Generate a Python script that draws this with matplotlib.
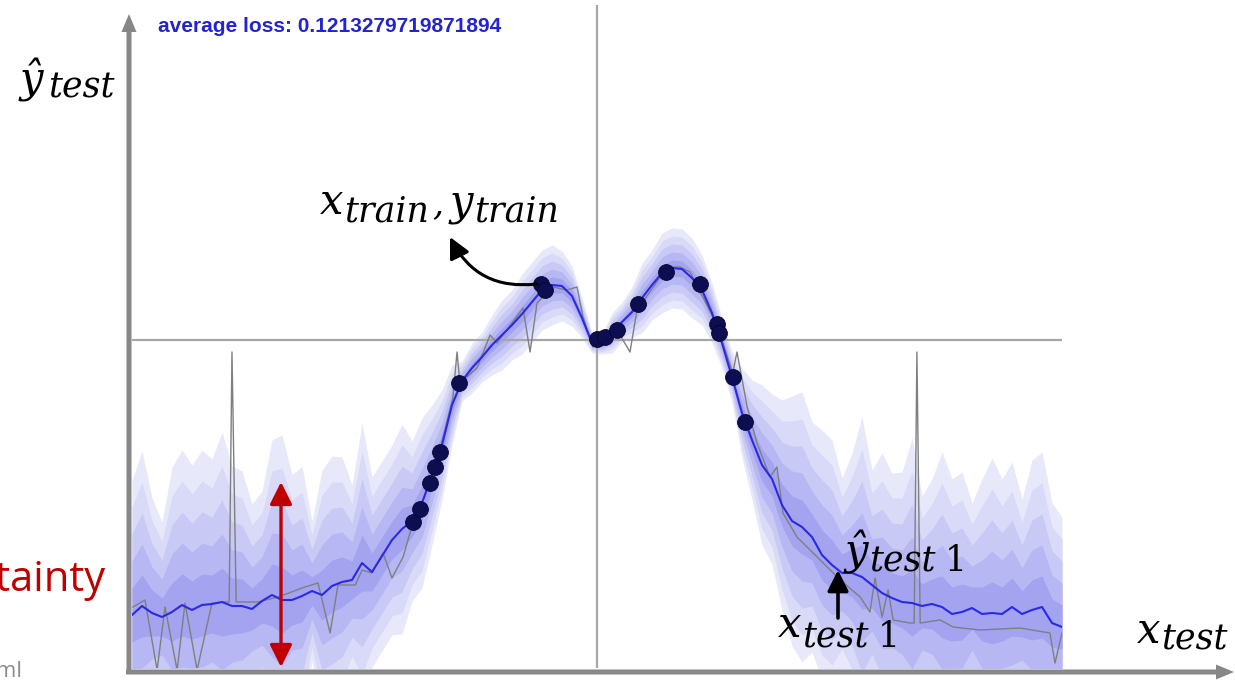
import numpy as np
import matplotlib.pyplot as plt

# test inputs on a regular grid, predictive mean and spread
x_test = np.linspace(-10, 10, 94)
y_mean = [-2.75, -2.66, -2.73, -2.77, -2.72, -2.65, -2.70, -2.65, -2.64, -2.62,
          -2.66, -2.66, -2.69, -2.61, -2.55, -2.60, -2.60, -2.56, -2.51, -2.55,
          -2.46, -2.42, -2.40, -2.23, -2.32, -2.16, -2.00, -1.89, -1.81, -1.63,
          -1.35, -1.05, -0.65, -0.41, -0.28, -0.17, -0.05, 0.05, 0.15, 0.26,
          0.38, 0.50, 0.55, 0.54, 0.44, 0.22, -0.03, -0.04, 0.07, 0.18,
          0.28, 0.42, 0.55, 0.67, 0.72, 0.71, 0.62, 0.50, 0.27, -0.03,
          -0.37, -0.73, -1.00, -1.25, -1.39, -1.65, -1.81, -1.87, -1.97, -2.15,
          -2.25, -2.33, -2.33, -2.37, -2.45, -2.53, -2.58, -2.62, -2.63, -2.66,
          -2.64, -2.67, -2.74, -2.72, -2.68, -2.74, -2.73, -2.74, -2.67, -2.74,
          -2.70, -2.67, -2.83, -2.87]
y_std = [0.27, 0.31, 0.23, 0.19, 0.29, 0.31, 0.29, 0.31, 0.29, 0.34,
         0.28, 0.27, 0.21, 0.22, 0.31, 0.33, 0.25, 0.26, 0.14, 0.25,
         0.26, 0.25, 0.19, 0.28, 0.19, 0.19, 0.19, 0.21, 0.16, 0.17,
         0.14, 0.11, 0.08, 0.04, 0.05, 0.05, 0.06, 0.07, 0.07, 0.08,
         0.08, 0.08, 0.08, 0.07, 0.06, 0.04, 0.02, 0.02, 0.04, 0.04,
         0.05, 0.07, 0.07, 0.08, 0.08, 0.08, 0.08, 0.07, 0.06, 0.05,
         0.05, 0.09, 0.12, 0.16, 0.17, 0.21, 0.25, 0.27, 0.23, 0.25,
         0.25, 0.19, 0.24, 0.32, 0.23, 0.28, 0.25, 0.26, 0.33, 0.22,
         0.25, 0.31, 0.27, 0.28, 0.21, 0.27, 0.31, 0.27, 0.29, 0.23,
         0.30, 0.31, 0.24, 0.22]

# noisy sample curve (grey)
x_true = [-9.98, -9.72, -9.46, -9.29, -9.03, -8.86, -8.60, -8.28, -8.00, -7.91,
          -7.85, -7.76, -7.29, -6.86, -6.28, -6.00, -5.74, -5.57, -5.20, -5.05,
          -4.84, -4.60, -4.41, -4.17, -3.96, -3.81, -3.59, -3.38, -3.10, -3.01,
          -2.95, -2.58, -2.30, -2.15, -1.59, -1.44, -1.29, -0.95, -0.65, -0.43,
          -0.30, -0.09, 0.00, 0.43, 0.71, 0.86, 1.51, 1.78, 2.00, 2.58,
          2.92, 3.01, 3.23, 3.44, 3.72, 3.87, 4.00, 4.30, 4.80, 5.23,
          5.66, 5.87, 5.98, 6.13, 6.26, 6.37, 6.73, 6.82, 6.88, 6.95,
          7.38, 7.66, 8.24, 9.10, 9.74, 9.85, 10.00]
y_true = [-2.67, -2.60, -3.30, -2.67, -3.30, -2.63, -3.30, -2.63, -2.62, -2.62,
          -0.12, -2.62, -2.62, -2.57, -2.47, -2.43, -2.93, -2.45, -2.45, -2.30,
          -2.33, -2.13, -2.38, -2.17, -1.83, -1.68, -1.42, -1.10, -0.58, -0.12,
          -0.43, -0.28, 0.05, -0.03, 0.32, -0.12, 0.37, 0.53, 0.50, 0.53,
          0.23, -0.07, -0.03, 0.10, -0.12, 0.30, 0.73, 0.73, 0.68, 0.15,
          -0.33, -0.12, -0.67, -1.03, -1.37, -1.27, -1.73, -1.97, -2.20, -2.40,
          -2.57, -2.72, -2.38, -2.77, -2.50, -2.80, -2.83, -2.83, -0.12, -2.83,
          -2.80, -2.87, -2.90, -2.88, -2.93, -3.23, -2.93]

# training points
x_train = [-3.96, -3.81, -3.59, -3.48, -3.38, -2.97, -1.20, -1.12, 0.00, 0.17,
           0.43, 0.88, 1.48, 2.22, 2.58, 2.62, 2.92, 3.18]
y_train = [-1.82, -1.69, -1.43, -1.27, -1.12, -0.43, 0.56, 0.50, 0.01, 0.03,
           0.10, 0.36, 0.68, 0.56, 0.16, 0.07, -0.37, -0.82]

mean = np.array(y_mean)
std = np.array(y_std)

fig = plt.figure(figsize=(12.35, 6.81), dpi=100)
ax = fig.add_axes([132 / 1235, 13 / 681, 930 / 1235, 663 / 681])
ax.set_xlim(-10, 10)
ax.set_ylim(-3.28, 3.35)
ax.axis('off')

band_colors = ['#e8e8fb', '#d9d9f8', '#c9c9f6', '#b7b7f3', '#a3a3ef']
for k, c in zip([5, 4, 3, 2, 1], band_colors):
    ax.fill_between(x_test, mean - k * std, mean + k * std, color=c, lw=0, zorder=1)

ax.axhline(0, color='#a6a6a6', lw=1.6, zorder=2)
ax.axvline(0, color='#a6a6a6', lw=1.6, zorder=2)
ax.plot(x_true, y_true, color='#7f7f7f', lw=1.0, zorder=3)
ax.plot(x_test, mean, color='#2a2ae6', lw=1.5, zorder=4)
ax.scatter(x_train, y_train, s=130, color='#0d0d52', edgecolor='#05052e', lw=0.6, zorder=5)

# overlay in pixel units for the slide decorations
ov = fig.add_axes([0, 0, 1, 1])
ov.set_xlim(0, 1235)
ov.set_ylim(681, 0)
ov.axis('off')

axis_grey = '#878787'
ov.arrow(129, 674, 0, -660, width=5, head_width=15, head_length=18,
         length_includes_head=True, color=axis_grey, lw=0)
ov.arrow(126, 672, 1108, 0, width=5, head_width=15, head_length=18,
         length_includes_head=True, color=axis_grey, lw=0)

ov.text(158, 27, 'average loss: 0.1213279719871894', color='#2323cf',
        fontsize=15, fontweight='bold', family='Liberation Sans', va='center')

serif = dict(family='DejaVu Serif', style='italic', color='black', va='baseline')
big, small = 30, 25

ov.text(20, 92, 'ŷ', fontsize=big, **serif)
ov.text(48, 98, 'test', fontsize=small, **serif)

ov.text(320, 214, 'x', fontsize=big, **serif)
ov.text(344, 221, 'train', fontsize=small, **serif)
ov.text(432, 214, ',', fontsize=small, **serif)
ov.text(450, 214, 'y', fontsize=big, **serif)
ov.text(474, 221, 'train', fontsize=small, **serif)

ov.text(845, 565, 'ŷ', fontsize=big, **serif)
ov.text(869, 571, 'test', fontsize=small, **serif)
ov.text(945, 571, '1', fontsize=small, family='DejaVu Serif', va='baseline')

ov.text(778, 637, 'x', fontsize=big, **serif)
ov.text(802, 647, 'test', fontsize=small, **serif)
ov.text(878, 647, '1', fontsize=small, family='DejaVu Serif', va='baseline')

ov.text(1137, 643, 'x', fontsize=big, **serif)
ov.text(1161, 650, 'test', fontsize=small, **serif)

ov.annotate('', xy=(450, 237), xytext=(537, 284),
            arrowprops=dict(arrowstyle='-|>,head_length=0.9,head_width=0.45', color='black',
                            lw=2.2, mutation_scale=14, shrinkA=0, shrinkB=0,
                            connectionstyle='arc3,rad=-0.35'))
ov.annotate('', xy=(838, 570), xytext=(838, 618),
            arrowprops=dict(arrowstyle='-|>,head_length=0.9,head_width=0.45', color='black',
                            lw=2.6, mutation_scale=14, shrinkA=0, shrinkB=0))
ov.annotate('', xy=(281, 667), xytext=(281, 482),
            arrowprops=dict(arrowstyle='<|-|>,head_length=0.9,head_width=0.45', color='#c00000',
                            lw=2.4, mutation_scale=15, shrinkA=0, shrinkB=0))

ov.text(106, 580, 'uncertainty', color='#c00000', fontsize=30, family='Open Sans',
        ha='right', va='center')
ov.text(23, 672, 'yarin/blog_3d801aa532c1ce.html', color='#8c8c8c', fontsize=16,
        family='Open Sans', ha='right', va='center')

fig.savefig('out.png', dpi=100)
